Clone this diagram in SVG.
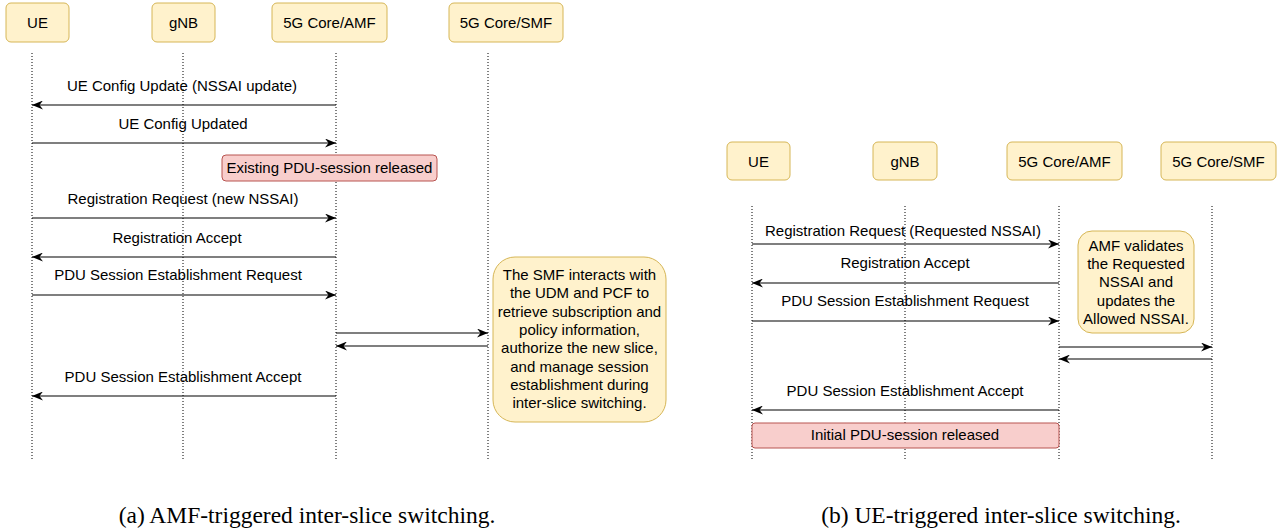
<svg xmlns="http://www.w3.org/2000/svg" width="1279" height="531" viewBox="0 0 1279 531">
<style>
.actor{fill:#fff2cc;stroke:#d6b656;stroke-width:1}
.red{fill:#f8cecc;stroke:#b85450;stroke-width:1}
.t{font-family:"Liberation Sans",Arial,sans-serif;font-size:15px;fill:#000;text-anchor:middle}
.life{stroke:#000;stroke-width:1;stroke-dasharray:1 2;fill:none}
.msg{stroke:#000;stroke-width:1.2;fill:none;marker-end:url(#ah)}
.cap{font-family:"Liberation Serif","Times New Roman",serif;font-size:23.5px;fill:#000;text-anchor:middle}
</style>
<defs>
<marker id="ah" viewBox="0 0 11 9" refX="11" refY="4.5" markerWidth="11" markerHeight="9" orient="auto" markerUnits="userSpaceOnUse">
<path d="M0,0 L11,4.5 L0,9 L3.5,4.5 Z" fill="#000"/>
</marker>
</defs>
<rect width="1279" height="531" fill="#fff"/>

<!-- Left panel: lifelines -->
<g id="lifelines-a">
<line class="life" x1="32" y1="53" x2="32" y2="460"/>
<line class="life" x1="183" y1="53" x2="183" y2="460"/>
<line class="life" x1="336" y1="53" x2="336" y2="460"/>
<line class="life" x1="488" y1="53" x2="488" y2="460"/>
</g>
<g id="a-ue"><rect class="actor" x="6" y="3" width="63" height="39" rx="5"/><text class="t" x="37.5" y="28">UE</text></g>
<g id="a-gnb"><rect class="actor" x="152" y="3" width="63" height="39" rx="5"/><text class="t" x="183.5" y="28">gNB</text></g>
<g id="a-amf"><rect class="actor" x="272" y="3" width="115" height="39" rx="5"/><text class="t" x="329.5" y="28">5G Core/AMF</text></g>
<g id="a-smf"><rect class="actor" x="449" y="3" width="114" height="39" rx="5"/><text class="t" x="506" y="28">5G Core/SMF</text></g>
<g id="a-released"><rect class="red" x="222" y="155" width="215" height="26" rx="4"/><text class="t" x="329.5" y="173">Existing PDU-session released</text></g>
<g id="a-note"><rect class="actor" x="493" y="257" width="173" height="165" rx="22"/>
<text class="t" x="579.5" y="280">The SMF interacts with</text>
<text class="t" x="579.5" y="298.3">the UDM and PCF to</text>
<text class="t" x="579.5" y="316.6">retrieve subscription and</text>
<text class="t" x="579.5" y="334.9">policy information,</text>
<text class="t" x="579.5" y="353.2">authorize the new slice,</text>
<text class="t" x="579.5" y="371.5">and manage session</text>
<text class="t" x="579.5" y="389.8">establishment during</text>
<text class="t" x="579.5" y="408.1">inter-slice switching.</text>
</g>
<g id="connectors-a">
<line class="msg" x1="336" y1="105" x2="32" y2="105"/>
<text class="t" x="182" y="91">UE Config Update (NSSAI update)</text>
<line class="msg" x1="32" y1="143" x2="336" y2="143"/>
<text class="t" x="183" y="129">UE Config Updated</text>
<line class="msg" x1="32" y1="218" x2="336" y2="218"/>
<text class="t" x="183" y="204">Registration Request (new NSSAI)</text>
<line class="msg" x1="336" y1="257" x2="32" y2="257"/>
<text class="t" x="177" y="243">Registration Accept</text>
<line class="msg" x1="32" y1="295" x2="336" y2="295"/>
<text class="t" x="178" y="280">PDU Session Establishment Request</text>
<line class="msg" x1="336" y1="333" x2="488" y2="333"/>
<line class="msg" x1="488" y1="346" x2="336" y2="346"/>
<line class="msg" x1="336" y1="396" x2="32" y2="396"/>
<text class="t" x="183" y="382">PDU Session Establishment Accept</text>
</g>

<!-- Right panel -->
<g id="lifelines-b">
<line class="life" x1="752" y1="206" x2="752" y2="460"/>
<line class="life" x1="905" y1="206" x2="905" y2="460"/>
<line class="life" x1="1059" y1="206" x2="1059" y2="460"/>
<line class="life" x1="1212" y1="206" x2="1212" y2="460"/>
</g>
<g id="b-ue"><rect class="actor" x="727" y="142" width="63" height="38" rx="5"/><text class="t" x="758.5" y="167">UE</text></g>
<g id="b-gnb"><rect class="actor" x="873" y="142" width="64" height="38" rx="5"/><text class="t" x="905" y="167">gNB</text></g>
<g id="b-amf"><rect class="actor" x="1007" y="142" width="115" height="38" rx="5"/><text class="t" x="1064.5" y="167">5G Core/AMF</text></g>
<g id="b-smf"><rect class="actor" x="1161" y="142" width="115" height="38" rx="5"/><text class="t" x="1218.5" y="167">5G Core/SMF</text></g>
<g id="b-note"><rect class="actor" x="1078" y="231" width="116" height="102" rx="14"/>
<text class="t" x="1136" y="251">AMF validates</text>
<text class="t" x="1136" y="269">the Requested</text>
<text class="t" x="1136" y="287">NSSAI and</text>
<text class="t" x="1136" y="306">updates the</text>
<text class="t" x="1136" y="324">Allowed NSSAI.</text>
</g>
<g id="b-released"><rect class="red" x="752" y="423" width="307" height="25" rx="3"/><text class="t" x="905" y="440">Initial PDU-session released</text></g>
<g id="connectors-b">
<line class="msg" x1="752" y1="244" x2="1059" y2="244"/>
<text class="t" x="903" y="236">Registration Request (Requested NSSAI)</text>
<line class="msg" x1="1059" y1="283" x2="752" y2="283"/>
<text class="t" x="905" y="268">Registration Accept</text>
<line class="msg" x1="752" y1="321" x2="1059" y2="321"/>
<text class="t" x="905" y="306">PDU Session Establishment Request</text>
<line class="msg" x1="1059" y1="347" x2="1212" y2="347"/>
<line class="msg" x1="1212" y1="359" x2="1059" y2="359"/>
<line class="msg" x1="1059" y1="410" x2="752" y2="410"/>
<text class="t" x="905" y="396">PDU Session Establishment Accept</text>
</g>

<text class="cap" x="307" y="523">(a) AMF-triggered inter-slice switching.</text>
<text class="cap" x="1001" y="523">(b) UE-triggered inter-slice switching.</text>
</svg>
